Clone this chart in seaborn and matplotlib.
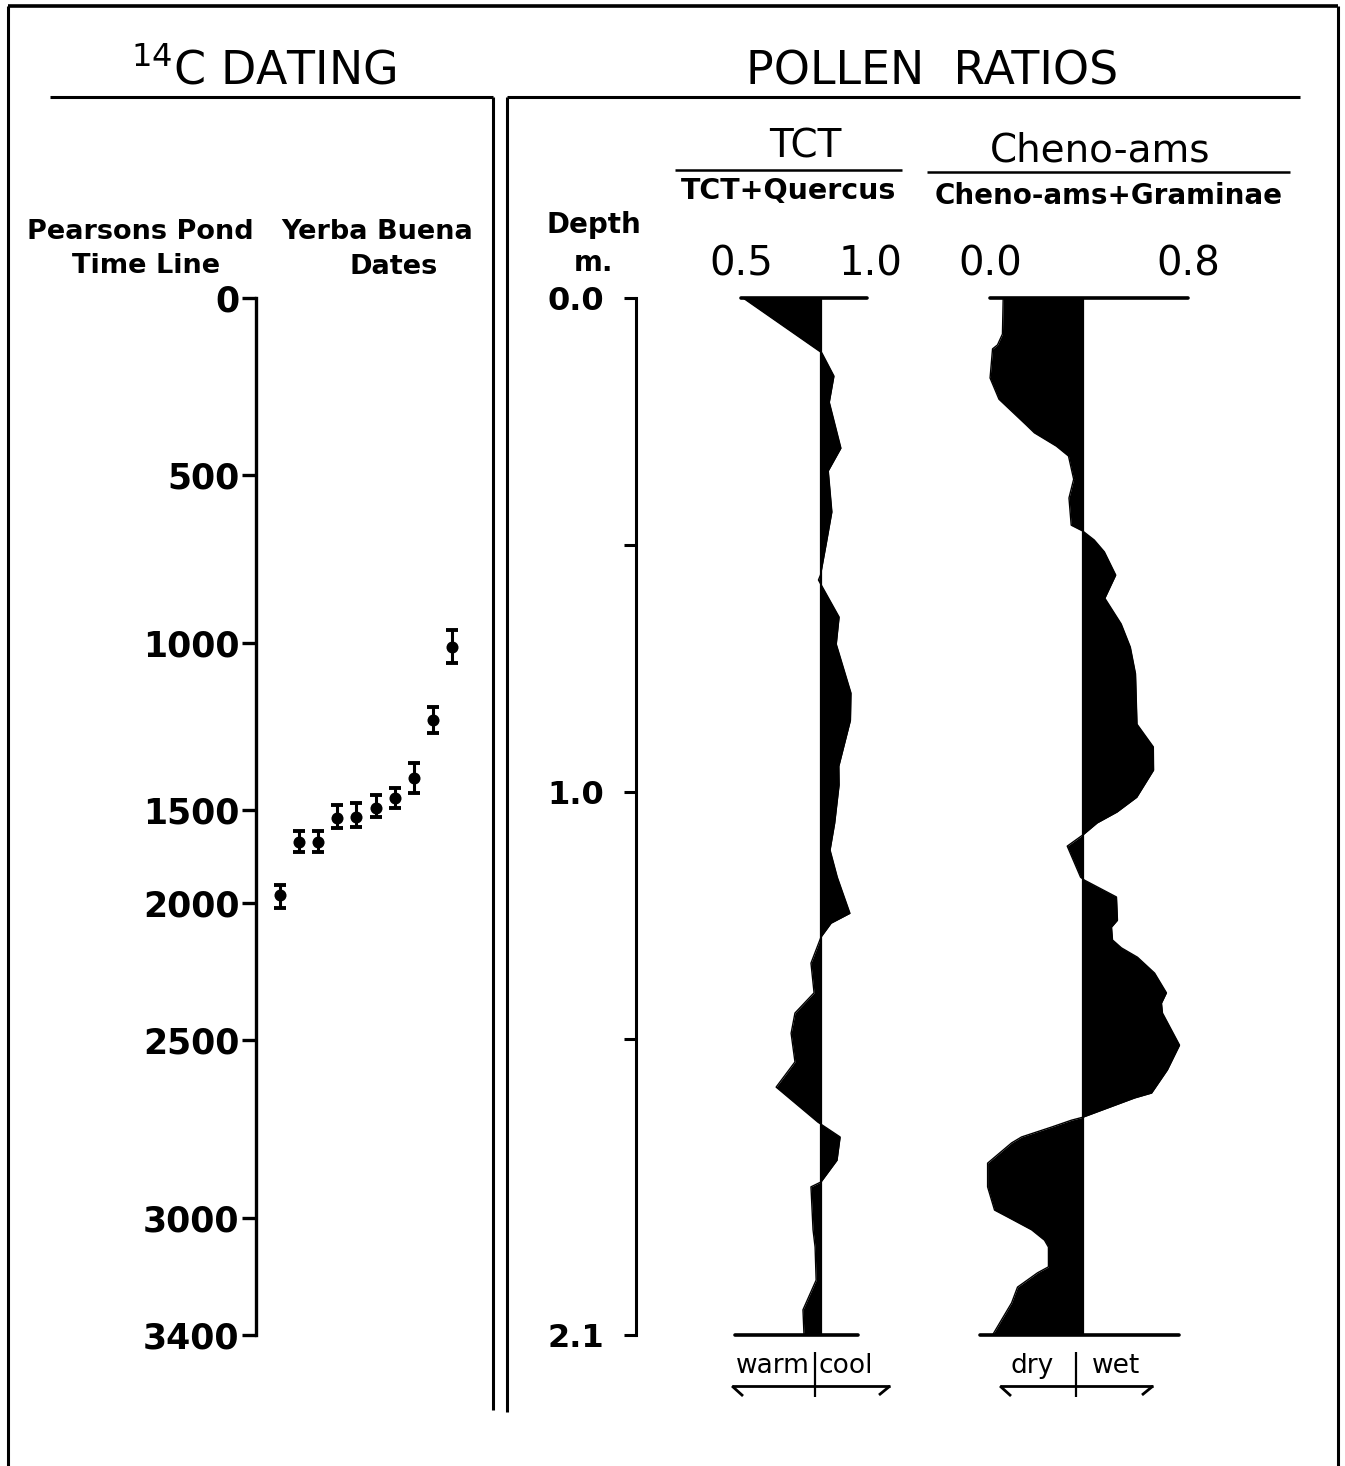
import numpy as np
import matplotlib
matplotlib.use("Agg")
import matplotlib.pyplot as plt
import seaborn as sns

# Pearsons Pond time line: years BP and the core depth (m) they sit at
time_labels = [0, 500, 1000, 1500, 2000, 2500, 3000, 3400]
time_depths = [0.0, 0.358, 0.699, 1.037, 1.225, 1.503, 1.863, 2.1]

# Yerba Buena 14C dates (years BP) and their errors
yb_dates = [1960, 1670, 1670, 1540, 1535, 1495, 1465, 1405, 1230, 1010]
yb_errors = [57, 55, 55, 55, 55, 40, 30, 45, 38, 48]

# depth scale (m)
depth_ticks = [0.0, 0.5, 1.0, 1.5, 2.1]
depth_labels = ["0.0", "", "1.0", "", "2.1"]

# TCT / (TCT + Quercus)
tct_depth = [0.0, 0.111, 0.158, 0.211, 0.304, 0.350, 0.433, 0.498, 0.561, 0.571,
             0.646, 0.701, 0.800, 0.855, 0.948, 0.986, 1.063, 1.118, 1.173, 1.246,
             1.266, 1.294, 1.347, 1.407, 1.448, 1.489, 1.547, 1.598, 1.669, 1.699,
             1.746, 1.790, 1.800, 1.887, 1.922, 1.989, 2.049, 2.100]
tct_ratio = [0.508, 0.813, 0.860, 0.842, 0.887, 0.838, 0.852, 0.830, 0.808, 0.800,
             0.880, 0.869, 0.926, 0.924, 0.879, 0.880, 0.863, 0.845, 0.873, 0.922,
             0.849, 0.810, 0.771, 0.783, 0.709, 0.694, 0.709, 0.636, 0.798, 0.884,
             0.872, 0.810, 0.771, 0.779, 0.787, 0.791, 0.740, 0.744]
tct_mean = 0.81

# Cheno-ams / (Cheno-ams + Gramineae)
cheno_depth = [0.0, 0.073, 0.095, 0.103, 0.162, 0.205, 0.257, 0.273, 0.300, 0.320,
               0.367, 0.405, 0.460, 0.472, 0.490, 0.514, 0.561, 0.608, 0.660, 0.707,
               0.761, 0.863, 0.909, 0.956, 1.011, 1.041, 1.063, 1.087, 1.110, 1.173,
               1.179, 1.213, 1.260, 1.274, 1.300, 1.316, 1.335, 1.367, 1.407, 1.428,
               1.448, 1.513, 1.563, 1.610, 1.620, 1.659, 1.665, 1.679, 1.699, 1.711,
               1.752, 1.800, 1.847, 1.861, 1.887, 1.908, 1.922, 1.962, 1.974, 2.003,
               2.035, 2.100]
cheno_ratio = [0.053, 0.050, 0.030, 0.010, 0.000, 0.036, 0.146, 0.179, 0.268, 0.317,
               0.338, 0.319, 0.328, 0.375, 0.421, 0.462, 0.508, 0.464, 0.530, 0.567,
               0.588, 0.594, 0.660, 0.661, 0.593, 0.513, 0.433, 0.376, 0.312, 0.366,
               0.382, 0.511, 0.515, 0.491, 0.495, 0.531, 0.596, 0.665, 0.713, 0.693,
               0.697, 0.766, 0.717, 0.653, 0.584, 0.375, 0.329, 0.248, 0.127, 0.087,
               -0.010, -0.010, 0.018, 0.071, 0.168, 0.220, 0.236, 0.236, 0.192, 0.111,
               0.087, 0.010]
cheno_mean = 0.375

sns.set_theme(style="white")
plt.rcParams["font.family"] = ["DejaVu Sans"]
plt.rcParams["mathtext.default"] = "regular"
plt.rcParams["text.color"] = "black"

W, H = 1345, 1466
fig = plt.figure(figsize=(W / 100, H / 100), dpi=100)
fig.patch.set_facecolor("white")


def box(x0, y0, x1, y1):
    # pixel box -> figure fraction
    return [x0 / W, 1 - y1 / H, (x1 - x0) / W, (y1 - y0) / H]


# overlay in pixel units for frame, rules and headings
deco = fig.add_axes([0, 0, 1, 1])
deco.set_xlim(0, W)
deco.set_ylim(H, 0)
deco.axis("off")
deco.patch.set_alpha(0)

k = dict(color="black", solid_capstyle="butt")
deco.plot([8, 8], [H, 6], lw=2.2, **k)
deco.plot([8, 1338], [6, 6], lw=2.6, **k)
deco.plot([1338, 1338], [6, H], lw=2.2, **k)
deco.plot([50, 493], [97, 97], lw=2.2, **k)
deco.plot([493, 493], [97, 1410], lw=2.2, **k)
deco.plot([507, 507], [97, 1412], lw=2.2, **k)
deco.plot([507, 1300], [97, 97], lw=2.2, **k)
deco.plot([675, 902], [170, 170], lw=1.8, **k)
deco.plot([927, 1290], [172, 172], lw=1.8, **k)

deco.text(264, 72, r"$^{14}$C DATING", fontsize=33, ha="center", va="center")
deco.text(932, 72, "POLLEN  RATIOS", fontsize=33, ha="center", va="center")
deco.text(140, 232, "Pearsons Pond", fontsize=19.5, fontweight="bold", ha="center", va="center")
deco.text(146, 266, "Time Line", fontsize=19.5, fontweight="bold", ha="center", va="center")
deco.text(377, 232, "Yerba Buena", fontsize=19.5, fontweight="bold", ha="center", va="center")
deco.text(394, 267, "Dates", fontsize=19.5, fontweight="bold", ha="center", va="center")
deco.text(594, 225, "Depth", fontsize=20, fontweight="bold", ha="center", va="center")
deco.text(594, 263, "m.", fontsize=20, fontweight="bold", ha="center", va="center")
deco.text(805, 147, "TCT", fontsize=28, ha="center", va="center")
deco.text(789, 191, "TCT+Quercus", fontsize=20.5, fontweight="bold", ha="center", va="center")
deco.text(1100, 150, "Cheno-ams", fontsize=28, ha="center", va="center")
deco.text(1109, 196, "Cheno-ams+Graminae", fontsize=20, fontweight="bold", ha="center", va="center")

# warm | cool and dry | wet keys
for mid, left, right, lt, rt, gl, gr in [(815, 732, 890, "warm", "cool", 5, 4),
                                         (1076, 1000, 1153, "dry", "wet", 22, 16)]:
    deco.plot([mid, mid], [1352, 1397], lw=1.6, **k)
    deco.plot([left, right], [1386, 1386], lw=2.0, **k)
    deco.plot([left, left + 11], [1386, 1396], lw=2.0, **k)
    deco.plot([right, right - 11], [1386, 1395], lw=2.0, **k)
    deco.text(mid - gl, 1366, lt, fontsize=19, ha="right", va="center")
    deco.text(mid + gr, 1366, rt, fontsize=19, ha="left", va="center")

# 14C dating panel
ax_t = fig.add_axes(box(256, 298, 480, 1335))
ax_t.patch.set_alpha(0)
idx = np.arange(len(yb_dates))
yb_depth = np.interp(yb_dates, time_labels, time_depths)
yb_lo = np.interp(np.array(yb_dates) - np.array(yb_errors), time_labels, time_depths)
yb_hi = np.interp(np.array(yb_dates) + np.array(yb_errors), time_labels, time_depths)
ax_t.errorbar(idx, yb_depth, yerr=[yb_depth - yb_lo, yb_hi - yb_depth], fmt="none",
              ecolor="black", elinewidth=2.2, capsize=4.5, capthick=2.8)
sns.scatterplot(x=idx, y=yb_depth, ax=ax_t, color="black", s=75, edgecolor="black",
                linewidth=0, zorder=3)
ax_t.set_xlim(-1.263, 10.474)
ax_t.set_ylim(2.1, 0)
ax_t.set_xticks([])
ax_t.set_yticks(time_depths, [str(v) for v in time_labels])
ax_t.tick_params(axis="y", direction="out", length=10, width=2.4, pad=2,
                 labelsize=25, colors="black", left=True)
for lbl in ax_t.get_yticklabels():
    lbl.set_fontweight("bold")
for s in ["top", "right", "bottom"]:
    ax_t.spines[s].set_visible(False)
ax_t.spines["left"].set_linewidth(2.4)
ax_t.spines["left"].set_color("black")
ax_t.set_xlabel("")
ax_t.set_ylabel("")

# depth axis
ax_d = fig.add_axes(box(636, 298, 660, 1335))
ax_d.patch.set_alpha(0)
ax_d.set_ylim(2.1, 0)
ax_d.set_xticks([])
ax_d.set_yticks(depth_ticks, depth_labels)
ax_d.tick_params(axis="y", direction="out", length=9, width=2.2, pad=14,
                 labelsize=23, colors="black", left=True)
for lbl in ax_d.get_yticklabels():
    lbl.set_fontweight("bold")
for s in ["top", "right", "bottom"]:
    ax_d.spines[s].set_visible(False)
ax_d.spines["left"].set_linewidth(2.2)
ax_d.spines["left"].set_color("black")


def profile(pos, xlim, depth, ratio, mean, ticks, labels, top_span, bottom_span):
    ax = fig.add_axes(box(*pos))
    ax.patch.set_alpha(0)
    ax.fill_betweenx(depth, ratio, mean, color="black", lw=0)
    sns.lineplot(x=ratio, y=depth, orient="y", sort=False, color="black", lw=1.0,
                 ax=ax, estimator=None)
    ax.axvline(mean, color="black", lw=1.6)
    ax.plot(top_span, [0, 0], color="black", lw=2.6, solid_capstyle="round", clip_on=False)
    ax.plot(bottom_span, [2.1, 2.1], color="black", lw=2.6, solid_capstyle="round", clip_on=False)
    ax.set_xlim(*xlim)
    ax.set_ylim(2.1, 0)
    ax.xaxis.tick_top()
    ax.set_xticks(ticks, labels)
    ax.tick_params(axis="x", length=0, pad=10, labelsize=29, colors="black", top=True)
    ax.set_yticks([])
    for s in ax.spines.values():
        s.set_visible(False)
    ax.set_xlabel("")
    ax.set_ylabel("")
    return ax


profile((700, 298, 900, 1335), (0.341, 1.116), tct_depth, tct_ratio, tct_mean,
        [0.5, 1.0], ["0.5", "1.0"], [0.5, 0.99], [0.477, 0.953])
profile((950, 298, 1230, 1335), (-0.162, 0.970), cheno_depth, cheno_ratio, cheno_mean,
        [0.0, 0.8], ["0.0", "0.8"], [0.0, 0.8], [-0.04, 0.764])

fig.savefig("out.png", dpi=100, facecolor="white")
